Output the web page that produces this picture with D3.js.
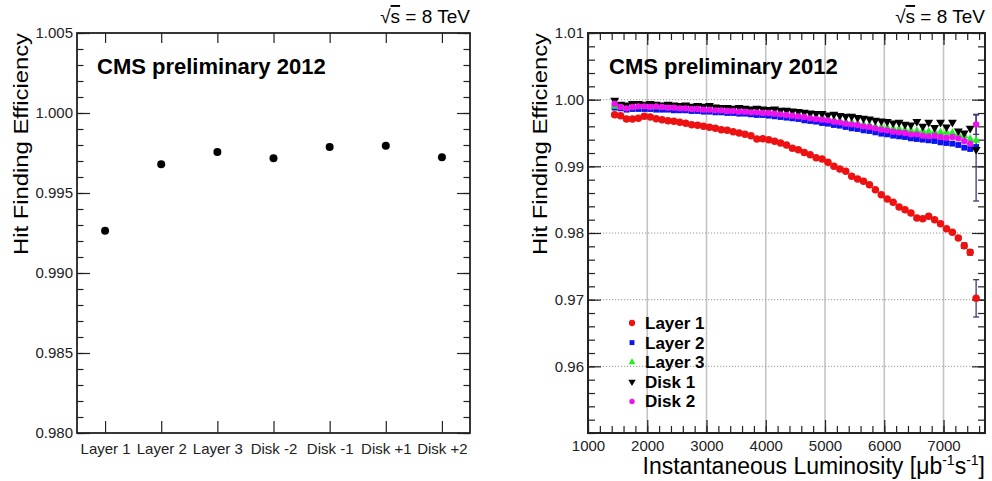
<!DOCTYPE html>
<html>
<head>
<meta charset="utf-8">
<script src="https://cdn.jsdelivr.net/npm/d3@7"></script>
<style>
  body { margin: 0; background: #fff; }
  svg { display: block; font-family: "Liberation Sans", Arial, Helvetica, sans-serif; }
</style>
</head>
<body>
<script>
// ---- left panel data: efficiency per detector layer / disk
var categories = ["Layer 1", "Layer 2", "Layer 3", "Disk -2", "Disk -1", "Disk +1", "Disk +2"];
var categoryEff = [0.99264, 0.99679, 0.99756, 0.99717, 0.99787, 0.99796, 0.99723];
var leftEffTicks = [0.980, 0.985, 0.990, 0.995, 1.000, 1.005];

// ---- right panel data: efficiency vs instantaneous luminosity
var lumiBins = [1450, 1550, 1650, 1750, 1850, 1950, 2050, 2150, 2250, 2350,
                2450, 2550, 2650, 2750, 2850, 2950, 3050, 3150, 3250, 3350,
                3450, 3550, 3650, 3750, 3850, 3950, 4050, 4150, 4250, 4350,
                4450, 4550, 4650, 4750, 4850, 4950, 5050, 5150, 5250, 5350,
                5450, 5550, 5650, 5750, 5850, 5950, 6050, 6150, 6250, 6350,
                6450, 6550, 6650, 6750, 6850, 6950, 7050, 7150, 7250, 7350,
                7450, 7550];
var layer1Eff = [0.99775, 0.9976, 0.9971, 0.9971, 0.99722, 0.9975, 0.9974, 0.99712, 0.9970, 0.99685,
                 0.99675, 0.9966, 0.99645, 0.99625, 0.99615, 0.9960, 0.99585, 0.9957, 0.9955, 0.9954,
                 0.9952, 0.9950, 0.9948, 0.9946, 0.9941, 0.99415, 0.9940, 0.99375, 0.9935, 0.9932,
                 0.99273, 0.9925, 0.99208, 0.99175, 0.9913, 0.9911, 0.9906, 0.9900, 0.9896, 0.98925,
                 0.9885, 0.9881, 0.98775, 0.98725, 0.9865, 0.98575, 0.9851, 0.9846, 0.9839, 0.9835,
                 0.9830, 0.98225, 0.98215, 0.9825, 0.9820, 0.9814, 0.98065, 0.9801, 0.97925, 0.9781,
                 0.9771, 0.9702];
var layer2Eff = [0.9988, 0.9987, 0.9985, 0.9986, 0.9986, 0.9986, 0.9986, 0.9985, 0.9985, 0.9985,
                 0.9984, 0.9984, 0.9984, 0.9983, 0.9983, 0.9982, 0.9982, 0.9981, 0.9981, 0.9980,
                 0.9980, 0.9979, 0.9979, 0.9978, 0.9977, 0.9977, 0.9976, 0.9975, 0.9974, 0.9973,
                 0.9972, 0.9971, 0.9969, 0.9968, 0.9967, 0.9965, 0.9964, 0.9962, 0.9961, 0.9959,
                 0.9957, 0.9956, 0.9954, 0.9953, 0.9951, 0.9949, 0.9948, 0.9946, 0.9945, 0.9944,
                 0.9942, 0.9941, 0.9940, 0.9939, 0.9938, 0.9936, 0.9935, 0.9934, 0.9932, 0.9928,
                 0.9926, 0.9929];
var layer3Eff = [0.9990, 0.9990, 0.9988, 0.9989, 0.9990, 0.9990, 0.9990, 0.9989, 0.9989, 0.9989,
                 0.9988, 0.9988, 0.9988, 0.9987, 0.9987, 0.9986, 0.9986, 0.9986, 0.9985, 0.9985,
                 0.9984, 0.9984, 0.9984, 0.9983, 0.9983, 0.9982, 0.9982, 0.9981, 0.9980, 0.9979,
                 0.9978, 0.9977, 0.9976, 0.9975, 0.9974, 0.9973, 0.9971, 0.9970, 0.9968, 0.9967,
                 0.9966, 0.9964, 0.9963, 0.9962, 0.9960, 0.9959, 0.9958, 0.9957, 0.9956, 0.9955,
                 0.9954, 0.9953, 0.9953, 0.9952, 0.9952, 0.9951, 0.9951, 0.9950, 0.9948, 0.9946,
                 0.9941, 0.9939];
var disk1Eff = [0.9999, 0.9993, 0.9992, 0.9994, 0.9994, 0.9993, 0.9994, 0.9993, 0.9992, 0.9993,
                0.9992, 0.9991, 0.9992, 0.9990, 0.9991, 0.9990, 0.9991, 0.9989, 0.9988, 0.9988,
                0.9987, 0.9988, 0.9987, 0.9986, 0.9987, 0.9986, 0.9985, 0.9986, 0.9984, 0.9984,
                0.9983, 0.9982, 0.9981, 0.9980, 0.9979, 0.9979, 0.9977, 0.9978, 0.9976, 0.9975,
                0.9975, 0.9973, 0.9972, 0.9971, 0.9969, 0.9968, 0.9967, 0.9965, 0.9966, 0.9963,
                0.9962, 0.9967, 0.9960, 0.9966, 0.9958, 0.9966, 0.9959, 0.9966, 0.9953, 0.9950,
                0.9957, 0.9925];
var disk2Eff = [0.9994, 0.9989, 0.9987, 0.9989, 0.9990, 0.9990, 0.9989, 0.9990, 0.9989, 0.9988,
                0.9988, 0.9987, 0.9987, 0.9986, 0.9986, 0.9985, 0.9985, 0.9984, 0.9984, 0.9983,
                0.9983, 0.9982, 0.9982, 0.9981, 0.9981, 0.9980, 0.9980, 0.9979, 0.9978, 0.9977,
                0.9976, 0.9975, 0.9974, 0.9972, 0.9971, 0.9970, 0.9969, 0.9967, 0.9966, 0.9964,
                0.9963, 0.9962, 0.9960, 0.9959, 0.9957, 0.9955, 0.9954, 0.9952, 0.9951, 0.9950,
                0.9948, 0.9948, 0.9946, 0.9945, 0.9946, 0.9944, 0.9943, 0.9944, 0.9942, 0.9938,
                0.9934, 0.9963];
// visible error bars (series, bin index, down, up)
var errSeries = ["Layer 1", "Layer 1", "Layer 1", "Disk 1", "Disk 2"];
var errBin = [59, 60, 61, 61, 61];
var errDown = [0.0004, 0.0004, 0.0028, 0.0077, 0.0015];
var errUp = [0.0004, 0.0004, 0.0028, 0.0052, 0.0015];

var lumiTicks = [1000, 2000, 3000, 4000, 5000, 6000, 7000];
var rightEffTicks = [0.96, 0.97, 0.98, 0.99, 1.00, 1.01];
var seriesNames = ["Layer 1", "Layer 2", "Layer 3", "Disk 1", "Disk 2"];

var svg = d3.select("body").append("svg")
            .attr("width", 992)
            .attr("height", 481);

function frameTicks(g, axisFn, scale, major, minor, size, minorSize, fmt) {
    g.call(axisFn(scale).tickValues(minor).tickSize(minorSize).tickFormat(""))
     .call(function (s) { s.select(".domain").remove(); });
    var m = g.append("g").call(axisFn(scale).tickValues(major).tickSize(size).tickPadding(4)
                                .tickFormat(fmt || ""));
    m.select(".domain").remove();
    g.selectAll("line").attr("stroke", "#222").attr("stroke-width", 1.2);
    return m;
}

// ================= LEFT PANEL =================
var L = { x0: 77, x1: 470, y0: 33, y1: 433 };
var xCat = d3.scaleBand().domain(categories).range([L.x0, L.x1]);
var yLeft = d3.scaleLinear().domain([0.980, 1.005]).range([L.y1, L.y0]);
var leftMinor = d3.range(980, 1006).map(function (v) { return v / 1000; });

var lp = svg.append("g");
var ly = lp.append("g").attr("transform", "translate(" + L.x0 + ",0)");
frameTicks(ly, d3.axisLeft, yLeft, leftEffTicks, leftMinor, -13, -6.5, d3.format(".3f"))
    .selectAll("text").attr("font-size", 15).attr("fill", "#222")
    .attr("font-family", "Liberation Sans, Arial, sans-serif");
var lyr = lp.append("g").attr("transform", "translate(" + L.x1 + ",0)");
frameTicks(lyr, d3.axisRight, yLeft, leftEffTicks, leftMinor, -13, -6.5);

var catCenters = categories.map(function (c) { return xCat(c) + xCat.bandwidth() / 2; });
var xCatPts = d3.scaleOrdinal().domain(categories).range(catCenters);
var lxb = lp.append("g").attr("transform", "translate(0," + L.y1 + ")");
lxb.call(d3.axisBottom(xCatPts).tickSize(-12).tickPadding(6))
   .call(function (s) { s.select(".domain").remove(); });
lxb.selectAll("line").attr("stroke", "#222").attr("stroke-width", 1.2);
lxb.selectAll("text").attr("font-size", 15).attr("fill", "#222")
   .attr("font-family", "Liberation Sans, Arial, sans-serif").attr("dy", "1.0em");
var lxt = lp.append("g").attr("transform", "translate(0," + L.y0 + ")");
lxt.call(d3.axisTop(xCatPts).tickSize(-10).tickFormat(""))
   .call(function (s) { s.select(".domain").remove(); });
lxt.selectAll("line").attr("stroke", "#222").attr("stroke-width", 1.2);

lp.append("rect")
  .attr("x", L.x0).attr("y", L.y0)
  .attr("width", L.x1 - L.x0).attr("height", L.y1 - L.y0)
  .attr("fill", "none").attr("stroke", "#222").attr("stroke-width", 1.8);

lp.selectAll("circle.cat")
  .data(categories)
  .enter().append("circle")
  .attr("class", "cat")
  .attr("cx", function (d) { return xCatPts(d); })
  .attr("cy", function (d, i) { return yLeft(categoryEff[i]); })
  .attr("r", 4)
  .attr("fill", "#000");

lp.append("text")
  .attr("x", 97).attr("y", 74)
  .attr("font-size", 22).attr("font-weight", "bold")
  .text("CMS preliminary 2012");

function sqrtS(g, xRight) {
    var t = g.append("text")
             .attr("x", xRight).attr("y", 23)
             .attr("text-anchor", "end")
             .attr("font-size", 19);
    t.append("tspan").text("\u221A");
    t.append("tspan").attr("text-decoration", "overline").text("s");
    t.append("tspan").text(" = 8 TeV");
}
sqrtS(lp, 470);

function yTitle(g, xBase) {
    g.append("text")
     .attr("transform", "translate(" + xBase + ",0) rotate(-90)")
     .attr("x", -33).attr("y", 0)
     .attr("text-anchor", "end")
     .attr("font-size", 21)
     .attr("textLength", 222)
     .attr("lengthAdjust", "spacingAndGlyphs")
     .text("Hit Finding Efficiency");
}
yTitle(lp, 28);

// ================= RIGHT PANEL =================
var R = { x0: 588, x1: 985, y0: 33, y1: 433 };
var xLumi = d3.scaleLinear().domain([1000, 7700]).range([R.x0, R.x1]);
var yRight = d3.scaleLinear().domain([0.95, 1.01]).range([R.y1, R.y0]);
var lumiMinor = d3.range(1000, 7701, 200);
var rightMinor = d3.range(950, 1011, 2).map(function (v) { return v / 1000; });

var rp = svg.append("g");

// grid
rp.selectAll("line.vgrid")
  .data(lumiTicks.slice(1))
  .enter().append("line")
  .attr("x1", function (d) { return xLumi(d); })
  .attr("x2", function (d) { return xLumi(d); })
  .attr("y1", R.y0).attr("y2", R.y1)
  .attr("stroke", "#c4c4c4").attr("stroke-width", 1.6);
rp.selectAll("line.hgrid")
  .data(rightEffTicks.slice(0, 5))
  .enter().append("line")
  .attr("x1", R.x0).attr("x2", R.x1)
  .attr("y1", function (d) { return yRight(d); })
  .attr("y2", function (d) { return yRight(d); })
  .attr("stroke", "#999").attr("stroke-width", 1)
  .attr("stroke-dasharray", "1.2,1.8");

var ry = rp.append("g").attr("transform", "translate(" + R.x0 + ",0)");
frameTicks(ry, d3.axisLeft, yRight, rightEffTicks, rightMinor, -13, -7, d3.format(".2f"))
    .selectAll("text").attr("font-size", 15).attr("fill", "#222")
    .attr("font-family", "Liberation Sans, Arial, sans-serif");
var ryr = rp.append("g").attr("transform", "translate(" + R.x1 + ",0)");
frameTicks(ryr, d3.axisRight, yRight, rightEffTicks, rightMinor, -13, -7);
var rxb = rp.append("g").attr("transform", "translate(0," + R.y1 + ")");
frameTicks(rxb, d3.axisBottom, xLumi, lumiTicks, lumiMinor, -13, -7, d3.format("d"))
    .selectAll("text").attr("font-size", 15).attr("fill", "#222")
    .attr("font-family", "Liberation Sans, Arial, sans-serif").attr("dy", "0.9em");
var rxt = rp.append("g").attr("transform", "translate(0," + R.y0 + ")");
frameTicks(rxt, d3.axisTop, xLumi, lumiTicks, lumiMinor, -12, -7);

rp.append("rect")
  .attr("x", R.x0).attr("y", R.y0)
  .attr("width", R.x1 - R.x0).attr("height", R.y1 - R.y0)
  .attr("fill", "none").attr("stroke", "#222").attr("stroke-width", 2);

// error bars
var errG = rp.append("g");
var seriesData = [layer1Eff, layer2Eff, layer3Eff, disk1Eff, disk2Eff];
errSeries.forEach(function (s, k) {
    var vals = seriesData[seriesNames.indexOf(s)];
    var v = vals[errBin[k]];
    var cx = xLumi(lumiBins[errBin[k]]);
    var col = errDown[k] > 0.001 ? "#3a3a78" : "#222";
    var ya = yRight(v - errDown[k]), yb = yRight(v + errUp[k]);
    errG.append("line").attr("x1", cx).attr("x2", cx).attr("y1", ya).attr("y2", yb)
        .attr("stroke", col).attr("stroke-width", 1.3);
    [ya, yb].forEach(function (yy) {
        errG.append("line").attr("x1", cx - 3).attr("x2", cx + 3).attr("y1", yy).attr("y2", yy)
            .attr("stroke", col).attr("stroke-width", 1.3);
    });
});

var styles = [
    { color: "#ee1111", shape: "circle", size: 44, rot: 0 },
    { color: "#0a14f0", shape: "square", size: 34, rot: 0 },
    { color: "#22ee22", shape: "triangle", size: 28, rot: 0 },
    { color: "#000000", shape: "triangle", size: 34, rot: 180 },
    { color: "#ee11ee", shape: "circle", size: 32, rot: 0 }
];
function symbolType(s) {
    if (s === "circle") return d3.symbolCircle;
    if (s === "square") return d3.symbolSquare;
    return d3.symbolTriangle;
}

seriesNames.forEach(function (name, k) {
    var st = styles[k];
    rp.append("g").selectAll("path")
      .data(lumiBins)
      .enter().append("path")
      .attr("d", d3.symbol().type(symbolType(st.shape)).size(st.size))
      .attr("transform", function (d, i) {
          return "translate(" + xLumi(d) + "," + yRight(seriesData[k][i]) + ") rotate(" + st.rot + ")";
      })
      .attr("fill", st.color);
});

// legend
var leg = rp.append("g");
seriesNames.forEach(function (name, k) {
    var st = styles[k];
    var yy = 323 + k * 19.6;
    leg.append("path")
       .attr("d", d3.symbol().type(symbolType(st.shape)).size(st.size * 0.7))
       .attr("transform", "translate(632," + yy + ") rotate(" + st.rot + ")")
       .attr("fill", st.color);
    leg.append("text")
       .attr("x", 645).attr("y", yy + 6)
       .attr("font-size", 17).attr("font-weight", "bold")
       .text(name);
});

rp.append("text")
  .attr("x", 609).attr("y", 74)
  .attr("font-size", 22).attr("font-weight", "bold")
  .text("CMS preliminary 2012");
sqrtS(rp, 985);
yTitle(rp, 547);

var xt = rp.append("text")
           .attr("x", 985).attr("y", 474)
           .attr("text-anchor", "end")
           .attr("font-size", 23);
xt.append("tspan").text("Instantaneous Luminosity [\u03BCb");
xt.append("tspan").attr("font-size", 14).attr("dy", -9).text("-1");
xt.append("tspan").attr("dy", 9).text("s");
xt.append("tspan").attr("font-size", 14).attr("dy", -9).text("-1");
xt.append("tspan").attr("dy", 9).text("]");
</script>
</body>
</html>
